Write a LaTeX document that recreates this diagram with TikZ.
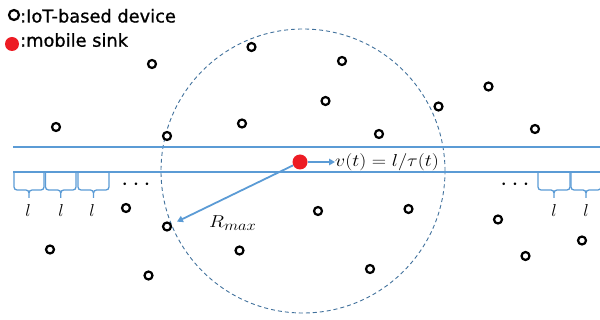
\documentclass[tikz,border=0pt]{standalone}
\usepackage{fontspec}
\newfontfamily\legendfont[FakeBold=1]{DejaVu Sans}
\usetikzlibrary{arrows.meta}
\definecolor{lineblue}{RGB}{91,155,213}
\definecolor{dashblue}{RGB}{65,113,156}
\definecolor{sinkred}{RGB}{237,28,36}
\begin{document}
\begin{tikzpicture}[x=1pt,y=-1pt,
  dev/.style={circle,draw=black,line width=2.2pt,fill=white,minimum size=8pt,inner sep=0pt},
  sinkdot/.style={circle,fill=sinkred,minimum size=15pt,inner sep=0pt},
  track/.style={lineblue,line width=1.8pt},
  brc/.style={lineblue,line width=1.3pt},
  arr/.style={lineblue,line width=1.8pt,-{Triangle[length=6pt,width=6.5pt]}},
  lbl/.style={inner sep=0pt,font=\fontsize{18}{20}\selectfont},
  mathlbl/.style={inner sep=0pt,anchor=base west,font=\fontsize{19}{21}\selectfont,xscale=1.15},
  legtxt/.style={inner sep=0pt,anchor=base west,font=\legendfont\fontsize{17.8}{20}\selectfont},
  ell/.style={inner sep=0pt,font=\fontsize{25}{26}\selectfont}]
\useasboundingbox (0,0) rectangle (600,320);
% range circle
\draw[dashblue,line width=0.9pt,dash pattern=on 4pt off 3pt] (303,171) circle[radius=142pt];
% tracks
\draw[track] (13,147) -- (600,147);
\draw[track] (13,172) -- (600,172);
% braces
\foreach \a/\b in {14/44,45.5/76,78/109,538/570,571/601}{
  \pgfmathsetmacro{\m}{(\a+\b)/2}
  \draw[brc] (\a,172) -- (\a,187) to[out=-90,in=180] (\a+3,190) -- (\m-3,190)
     to[out=0,in=90] (\m,193) -- (\m,198);
  \draw[brc] (\m,193) to[out=90,in=180] (\m+3,190) -- (\b-3,190)
     to[out=0,in=-90] (\b,187) -- (\b,172);
}
% labels l
\node[lbl] (l1) at (28,211) {$l$};
\node[lbl] (l2) at (61,211) {$l$};
\node[lbl] (l3) at (92,211) {$l$};
\node[lbl] (l4) at (554,211) {$l$};
\node[lbl] (l5) at (586,211) {$l$};
% ellipses
\node[ell] (e1) at (136,184.5) {$\cdots$};
\node[ell] (e2) at (515,184.5) {$\cdots$};
% legend
\node[dev,minimum size=10pt] (legdev) at (14,15) {};
\node[legtxt] (legdevtxt) at (20,22.5) {:IoT-based device};
\node[sinkdot,minimum size=14pt] (legsink) at (12,44) {};
\node[legtxt] (legsinktxt) at (20,46.7) {:mobile sink};
% devices
\node[dev] (d1) at (152,64) {};
\node[dev] (d2) at (251.5,47) {};
\node[dev] (d3) at (342,61) {};
\node[dev] (d4) at (325.5,101) {};
\node[dev] (d5) at (242,123.5) {};
\node[dev] (d6) at (438.5,106.5) {};
\node[dev] (d7) at (379,134) {};
\node[dev] (d8) at (167,136) {};
\node[dev] (d9) at (56,127) {};
\node[dev] (d10) at (488.5,86.5) {};
\node[dev] (d11) at (535,129) {};
\node[dev] (d12) at (126,208) {};
\node[dev] (dR) at (167,226.5) {};
\node[dev] (d14) at (50,249.5) {};
\node[dev] (d15) at (148.5,275.5) {};
\node[dev] (d16) at (239.5,250.5) {};
\node[dev] (d17) at (318,211) {};
\node[dev] (d18) at (408.5,209) {};
\node[dev] (d19) at (370,269) {};
\node[dev] (d20) at (498,219.5) {};
\node[dev] (d21) at (525.5,256) {};
\node[dev] (d22) at (582,240.5) {};
% sink and arrows
\node[sinkdot] (sink) at (300,162) {};
\node[mathlbl] (vel) at (335,167) {$v(t)=l/\tau(t)$};
\draw[arr] (sink.east) -- (sink.east -| vel.west);
\node[mathlbl] (rmax) at (209,228) {$R_{max}$};
\draw[arr,shorten >=6pt] (sink) -- (dR);
\end{tikzpicture}
\end{document}
